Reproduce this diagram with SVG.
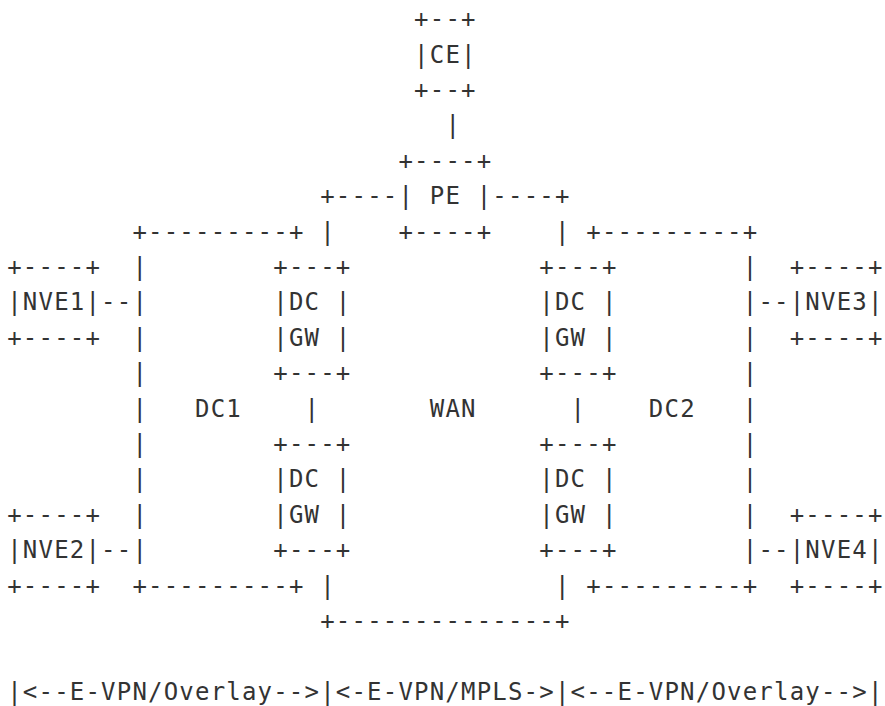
<svg xmlns="http://www.w3.org/2000/svg" width="885" height="706" viewBox="0 0 885 706">
<style>
text{font-family:"DejaVu Sans Mono","Liberation Mono",monospace;font-size:24px;letter-spacing:1.2px;fill:#333;white-space:pre}
</style>
<rect width="885" height="706" fill="#fff"/>
<g id="CE">
<text x="414.1" y="27.1">+--+</text>
<text x="414.1" y="62.5">|CE|</text>
<text x="414.1" y="97.9">+--+</text>
</g>
<g id="PE">
<text x="398.45" y="168.7">+----+</text>
<text x="398.45" y="204.1">|</text>
<text x="429.75" y="204.1">PE</text>
<text x="476.7" y="204.1">|</text>
<text x="398.45" y="239.5">+----+</text>
</g>
<g id="DC1">
<text x="132.4" y="239.5">+---------+</text>
<text x="132.4" y="274.9">|</text>
<text x="132.4" y="310.3">|</text>
<text x="132.4" y="345.7">|</text>
<text x="132.4" y="381.1">|</text>
<text x="132.4" y="416.5">|</text>
<text x="195.0" y="416.5">DC1</text>
<text x="132.4" y="451.9">|</text>
<text x="132.4" y="487.3">|</text>
<text x="132.4" y="522.7">|</text>
<text x="132.4" y="558.1">|</text>
<text x="132.4" y="593.5">+---------+</text>
</g>
<g id="DC2">
<text x="586.25" y="239.5">+---------+</text>
<text x="742.75" y="274.9">|</text>
<text x="742.75" y="310.3">|</text>
<text x="742.75" y="345.7">|</text>
<text x="742.75" y="381.1">|</text>
<text x="742.75" y="416.5">|</text>
<text x="648.85" y="416.5">DC2</text>
<text x="742.75" y="451.9">|</text>
<text x="742.75" y="487.3">|</text>
<text x="742.75" y="522.7">|</text>
<text x="742.75" y="558.1">|</text>
<text x="586.25" y="593.5">+---------+</text>
</g>
<g id="WAN">
<text x="429.75" y="416.5">WAN</text>
<text x="320.2" y="628.9">+--------------+</text>
</g>
<g id="NVE1">
<text x="7.2" y="274.9">+----+</text>
<text x="7.2" y="310.3">|NVE1|</text>
<text x="7.2" y="345.7">+----+</text>
</g>
<g id="NVE2">
<text x="7.2" y="522.7">+----+</text>
<text x="7.2" y="558.1">|NVE2|</text>
<text x="7.2" y="593.5">+----+</text>
</g>
<g id="NVE3">
<text x="789.7" y="274.9">+----+</text>
<text x="789.7" y="310.3">|NVE3|</text>
<text x="789.7" y="345.7">+----+</text>
</g>
<g id="NVE4">
<text x="789.7" y="522.7">+----+</text>
<text x="789.7" y="558.1">|NVE4|</text>
<text x="789.7" y="593.5">+----+</text>
</g>
<g id="DCGW1">
<text x="273.25" y="274.9">+---+</text>
<text x="273.25" y="310.3">|DC</text>
<text x="335.85" y="310.3">|</text>
<text x="273.25" y="345.7">|GW</text>
<text x="335.85" y="345.7">|</text>
<text x="273.25" y="381.1">+---+</text>
</g>
<g id="DCGW2">
<text x="273.25" y="451.9">+---+</text>
<text x="273.25" y="487.3">|DC</text>
<text x="335.85" y="487.3">|</text>
<text x="273.25" y="522.7">|GW</text>
<text x="335.85" y="522.7">|</text>
<text x="273.25" y="558.1">+---+</text>
</g>
<g id="DCGW3">
<text x="539.3" y="274.9">+---+</text>
<text x="539.3" y="310.3">|DC</text>
<text x="601.9" y="310.3">|</text>
<text x="539.3" y="345.7">|GW</text>
<text x="601.9" y="345.7">|</text>
<text x="539.3" y="381.1">+---+</text>
</g>
<g id="DCGW4">
<text x="539.3" y="451.9">+---+</text>
<text x="539.3" y="487.3">|DC</text>
<text x="601.9" y="487.3">|</text>
<text x="539.3" y="522.7">|GW</text>
<text x="601.9" y="522.7">|</text>
<text x="539.3" y="558.1">+---+</text>
</g>
<g id="connectors">
<text x="445.4" y="133.3">|</text>
<text x="320.2" y="204.1">+----</text>
<text x="492.35" y="204.1">----+</text>
<text x="320.2" y="239.5">|</text>
<text x="554.95" y="239.5">|</text>
<text x="101.1" y="310.3">--</text>
<text x="758.4" y="310.3">--</text>
<text x="101.1" y="558.1">--</text>
<text x="758.4" y="558.1">--</text>
<text x="304.55" y="416.5">|</text>
<text x="570.6" y="416.5">|</text>
<text x="320.2" y="593.5">|</text>
<text x="554.95" y="593.5">|</text>
</g>
<g id="legend">
<text x="7.2" y="699.7">|&lt;--E-VPN/Overlay--&gt;|&lt;-E-VPN/MPLS-&gt;|&lt;--E-VPN/Overlay--&gt;|</text>
</g>
</svg>
